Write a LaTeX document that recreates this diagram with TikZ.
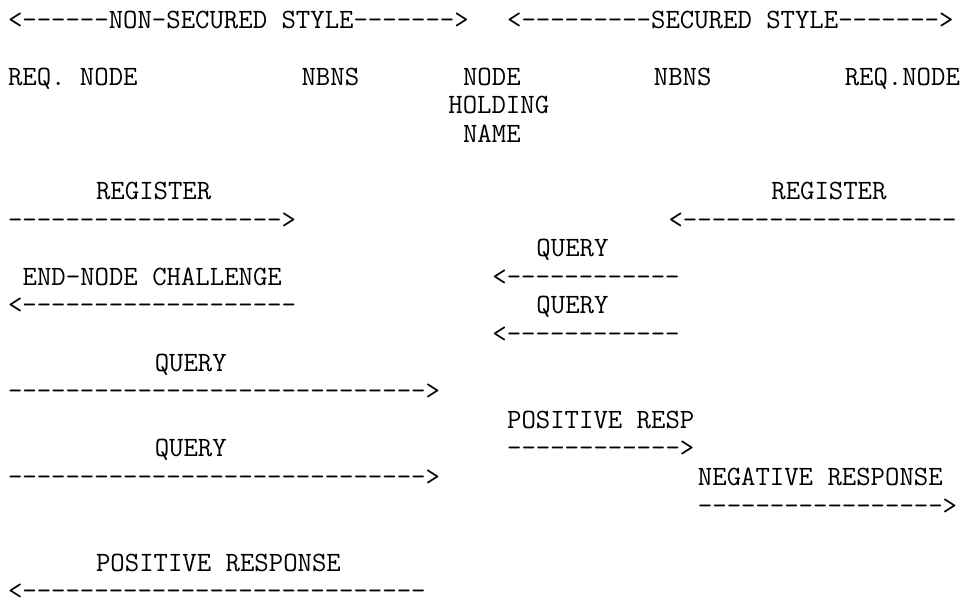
\documentclass[tikz,border=0pt]{standalone}
\usepackage{fontspec}
\setmonofont{Latin Modern Mono}
\begin{document}
\begin{tikzpicture}[x=11.01pt, y=-21.45pt,
    ascii/.style={anchor=base west, inner sep=0pt, outer sep=0pt,
        font=\ttfamily\fontsize{20.97pt}{25pt}\selectfont}]
    \useasboundingbox (-0.545,-0.979) rectangle (65.26,20);
    \node[ascii] (nonsecured) at (0,0) {<------NON-SECURED STYLE------->};
    \node[ascii] (secured) at (34,0) {<---------SECURED STYLE------->};
    \node[ascii] (reqnode-l) at (0,2) {REQ. NODE};
    \node[ascii] (nbns-l) at (20,2) {NBNS};
    \node[ascii] (holder-1) at (31,2) {NODE};
    \node[ascii] (holder-2) at (30,3) {HOLDING};
    \node[ascii] (holder-3) at (31,4) {NAME};
    \node[ascii] (nbns-r) at (44,2) {NBNS};
    \node[ascii] (reqnode-r) at (57,2) {REQ.NODE};
    \node[ascii] (register-l) at (6,6) {REGISTER};
    \node[ascii] (register-r) at (52,6) {REGISTER};
    \node[ascii] (register-l-arr) at (0,7) {------------------->};
    \node[ascii] (register-r-arr) at (45,7) {<-------------------};
    \node[ascii] (query-r1) at (36,8) {QUERY};
    \node[ascii] (challenge) at (1,9) {END-NODE CHALLENGE};
    \node[ascii] (query-r1-arr) at (33,9) {<------------};
    \node[ascii] (challenge-arr) at (0,10) {<-------------------};
    \node[ascii] (query-r2) at (36,10) {QUERY};
    \node[ascii] (query-r2-arr) at (33,11) {<------------};
    \node[ascii] (query-l1) at (10,12) {QUERY};
    \node[ascii] (query-l1-arr) at (0,13) {----------------------------->};
    \node[ascii] (posresp-r) at (34,14) {POSITIVE RESP};
    \node[ascii] (query-l2) at (10,15) {QUERY};
    \node[ascii] (posresp-r-arr) at (34,15) {------------>};
    \node[ascii] (query-l2-arr) at (0,16) {----------------------------->};
    \node[ascii] (negresp) at (47,16) {NEGATIVE RESPONSE};
    \node[ascii] (negresp-arr) at (47,17) {----------------->};
    \node[ascii] (posresp-l) at (6,19) {POSITIVE RESPONSE};
    \node[ascii] (posresp-l-arr) at (0,20) {<----------------------------};
\end{tikzpicture}
\end{document}
